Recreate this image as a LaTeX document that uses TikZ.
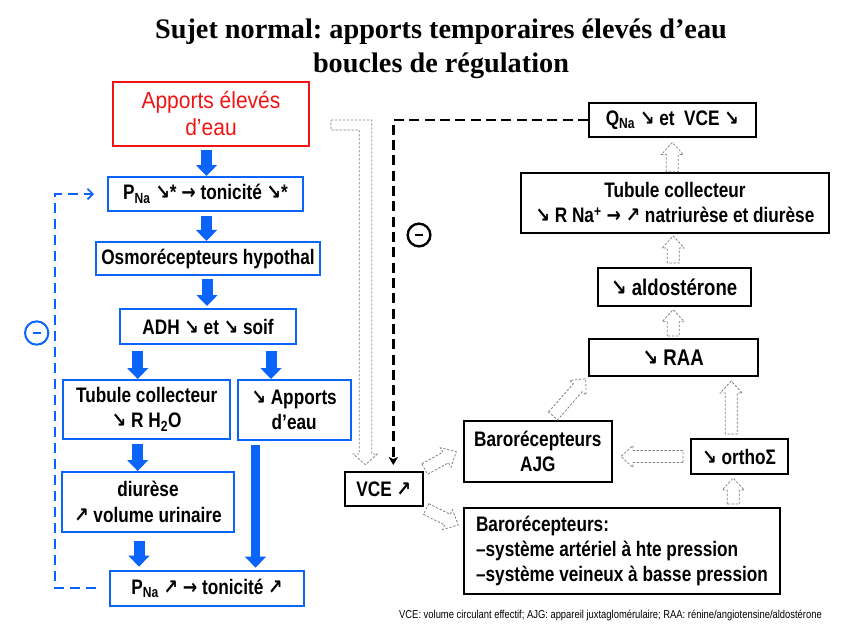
\documentclass[tikz,border=0pt]{standalone}
\usepackage{fontspec}
\usetikzlibrary{arrows.meta,calc}
\setmainfont{Liberation Sans}
\newfontfamily\nar{Liberation Sans}[FakeStretch=0.82]
\newfontfamily\narr{Liberation Sans}[FakeStretch=0.9]
\newfontfamily\ttl{Liberation Serif}
\newfontfamily\arw{DejaVu Sans}[FakeStretch=0.82]
\newcommand{\arDn}{{\arw ↘}}
\newcommand{\arUp}{{\arw ↗}}
\newcommand{\arR}{{\arw →}}
\definecolor{bl}{RGB}{10,100,250}
\definecolor{rd}{RGB}{240,20,20}
\definecolor{hg}{RGB}{130,130,130}
\frenchspacing
\tikzset{
  bx/.style 2 args={minimum width=#1*0.75pt, minimum height=#2*0.75pt, inner sep=0pt, align=center, line width=1.5pt},
  bluebox/.style={draw=bl},
  blackbox/.style={draw=black},
  txt/.style={font=\nar\bfseries\fontsize{15.75}{19}\selectfont},
  txtb/.style={font=\nar\bfseries\fontsize{17}{19}\selectfont},
  barr/.style={draw=bl, line width=8.25pt, -{Triangle[length=8.25pt,width=16pt,line width=0pt]}},
  hollow/.style={draw=hg, line width=0.6pt, dash pattern=on 1.8pt off 1.2pt, line join=miter},
  bdash/.style={draw=bl, line width=1.6pt, dash pattern=on 7.5pt off 4.5pt, -{Straight Barb[length=4pt,width=8pt,line width=1.3pt]}},
  kdash/.style={draw=black, line width=2pt, dash pattern=on 7.5pt off 4pt, -{Stealth[length=6pt,width=7pt,inset=1.5pt]}},
  minus/.style={circle, inner sep=0pt}
}
\newcommand{\hollowarr}[2]{%
  \coordinate (hq) at ($(#2)!9pt!(#1)$);
  \draw[hollow] ($(#1)!4.5pt!90:(#2)$) -- ($(hq)!4.5pt!90:(#2)$) -- ($(hq)!8.25pt!90:(#2)$) -- (#2) -- ($(hq)!8.25pt!-90:(#2)$) -- ($(hq)!4.5pt!-90:(#2)$) -- ($(#1)!4.5pt!-90:(#2)$) -- cycle;}
\begin{document}
\begin{tikzpicture}[x=0.75pt,y=-0.75pt]
\useasboundingbox (0,0) rectangle (855,628);

% title
\node[font=\ttl\bfseries\fontsize{21.2}{25}\selectfont, anchor=base] (t1) at (441,38) {Sujet normal: apports temporaires élevés d’eau};
\node[font=\ttl\bfseries\fontsize{21.2}{25}\selectfont, anchor=base] (t2) at (441,72) {boucles de régulation};

% left column
\node[bx={196}{64}, draw=rd, text=rd, font=\narr\fontsize{17.5}{20.25}\selectfont] (red) at (211,114) {Apports élevés\\d’eau};
\node[bx={195}{34}, bluebox, txt] (pnat) at (205.5,194) {P\textsubscript{Na} \arDn* \arR{} tonicité \arDn*};
\node[bx={224}{33.5}, bluebox, txt] (osmo) at (208,258.7) {Osmorécepteurs hypothal};
\node[bx={176}{35}, bluebox, txt] (adh) at (208,326.5) {ADH \arDn{} et \arDn{} soif};
\node[bx={166.7}{59}, bluebox, txt] (tub1) at (146.7,409.5) {Tubule collecteur\\\arDn{} R H\textsubscript{2}O};
\node[bx={113}{60}, bluebox, txt] (app2) at (294.2,410) {\arDn{} Apports\\d’eau};
\node[bx={171.7}{60}, bluebox, txt] (diu) at (148,502) {diurèse\\\arUp{} volume urinaire};
\node[bx={194}{35.3}, bluebox, txt] (pnab) at (207,588.3) {P\textsubscript{Na} \arUp{} \arR{} tonicité \arUp};

% right column
\node[bx={166.7}{34}, blackbox, txt] (qna) at (672.3,120) {Q\textsubscript{Na} \arDn{} et~ VCE \arDn};
\node[bx={308}{60.3}, blackbox, txt] (tub2) at (675,202.8) {Tubule collecteur\\\arDn{} R Na\textsuperscript{+} \arR{} \arUp{} natriurèse et diurèse};
\node[bx={153}{37.7}, blackbox, txtb] (aldo) at (674.2,286.8) {\arDn{} aldostérone};
\node[bx={169}{37}, blackbox, txtb] (raa) at (673.2,357.5) {\arDn{} RAA};
\node[bx={147.7}{61}, blackbox, txt] (ajg) at (537.8,451.2) {Barorécepteurs\\AJG};
\node[bx={97}{35}, blackbox, txt] (ortho) at (739.2,456.5) {\arDn{} orthoΣ};
\node[bx={316}{86}, blackbox, txt, align=left] (baro) at (622,551) {Barorécepteurs:\\–système artériel à hte pression\\–système veineux à basse pression};
\node[bx={77.7}{34}, blackbox, txt] (vce) at (383.8,489) {VCE \arUp};

% footnote
\node[font=\nar\fontsize{8.6}{10}\selectfont] (foot) at (610.5,615) {VCE: volume circulant effectif; AJG: appareil juxtaglomérulaire; RAA: rénine/angiotensine/aldostérone};

% blue block arrows
\draw[barr] ($(red.south -| pnat.north)+(1,3)$) -- ($(pnat.north)+(1,0)$);
\draw[barr] ($(pnat.south)+(1,4)$) -- ($(pnat.south |- osmo.north)+(1,0)$);
\draw[barr] ($(osmo.south)+(-1,3)$) -- ($(adh.north)+(-1,-2)$);
\coordinate (a4s) at ($(adh.south)+(-70.3,6)$);
\draw[barr] (a4s) -- (a4s |- tub1.north);
\coordinate (a5s) at ($(adh.south)+(63,6)$);
\draw[barr] (a5s) -- (a5s |- app2.north);
\coordinate (a6s) at ($(tub1.south)+(-9,4)$);
\draw[barr] (a6s) -- (a6s |- diu.north);
\coordinate (a7s) at ($(diu.south)+(-9,8)$);
\draw[barr] (a7s) -- ($(a7s |- pnab.north)+(0,-3)$);
\coordinate (a8s) at ($(app2.south)+(-38.7,4)$);
\draw[barr, line width=7pt] (a8s) -- ($(a8s |- pnab.north)+(0,-2)$);

% blue feedback loop
\draw[bdash] ($(pnab.west)+(-13.3,0)$) -- ($(pnab.west)+(-54,0)$) |- ($(pnat.west)+(-13,0)$);
\node[minus, draw=bl, line width=1.5pt, minimum size=17.5pt] (m1) at (36.7,333) {};
\draw[bl, line width=2pt] ($(m1.center)+(-4,0)$) -- ($(m1.center)+(4,0)$);

% black feedback loop
\coordinate (vcetop) at ($(vce.north)+(9.5,-6)$);
\draw[kdash] (qna.west) -| (vcetop);
\node[minus, draw=black, line width=1.8pt, minimum size=17pt] (m2) at (419,235) {};
\draw[black, line width=2.2pt] ($(m2.center)+(-4,0)$) -- ($(m2.center)+(4,0)$);

% L-shaped hollow arrow
\coordinate (Lstart) at ($(red.east)+(21,6)$);
\coordinate (Ltip) at ($(vce.north)+(-18.3,-6.3)$);
\draw[hollow] (Lstart) -- ($(Lstart -| Ltip)+(6.2,0)$) -- ($(Ltip)+(6.2,-10.7)$) -- ($(Ltip)+(11.8,-10.7)$) -- (Ltip) -- ($(Ltip)+(-12.2,-10.7)$) -- ($(Ltip)+(-6.2,-10.7)$) -- ($(Lstart -| Ltip)+(-6.2,10)$) -- ($(Lstart)+(0,10)$) -- cycle;

% hollow arrows right side
\coordinate (h1a) at (qna.south |- tub2.north);
\coordinate (h1b) at ($(qna.south)+(0,4.5)$);
\hollowarr{h1a}{h1b}
\coordinate (h2a) at ($(aldo.north)+(-1,-4)$);
\coordinate (h2b) at ($(tub2.south -| aldo.north)+(-1,2)$);
\hollowarr{h2a}{h2b}
\coordinate (h3a) at ($(raa.north)+(0,-2)$);
\coordinate (h3b) at ($(aldo.south -| raa.north)+(0,3)$);
\hollowarr{h3a}{h3b}
\coordinate (h4a) at ($(ajg.north)+(15.2,-3.7)$);
\coordinate (h4b) at ($(raa.south west)+(-2,1.7)$);
\hollowarr{h4a}{h4b}
\coordinate (h5a) at ($(ortho.north)+(-8,-4)$);
\coordinate (h5b) at ($(ortho.north |- raa.south)+(-8,4)$);
\hollowarr{h5a}{h5b}
\coordinate (h6a) at ($(ortho.west)+(-6.7,0)$);
\coordinate (h6b) at ($(ajg.east |- ortho.west)+(8.3,0)$);
\hollowarr{h6a}{h6b}
\coordinate (h7a) at ($(baro.north -| ortho.south)+(-6,-3)$);
\coordinate (h7b) at ($(ortho.south)+(-6,3)$);
\hollowarr{h7a}{h7b}
\coordinate (h8a) at ($(vce.north east)+(1,-2)$);
\coordinate (h8b) at ($(ajg.west)+(-6.7,0.5)$);
\hollowarr{h8a}{h8b}
\coordinate (h9a) at ($(vce.south east)+(2.5,2)$);
\coordinate (h9b) at ($(baro.west)+(-4.7,-26)$);
\hollowarr{h9a}{h9b}
\end{tikzpicture}
\end{document}
